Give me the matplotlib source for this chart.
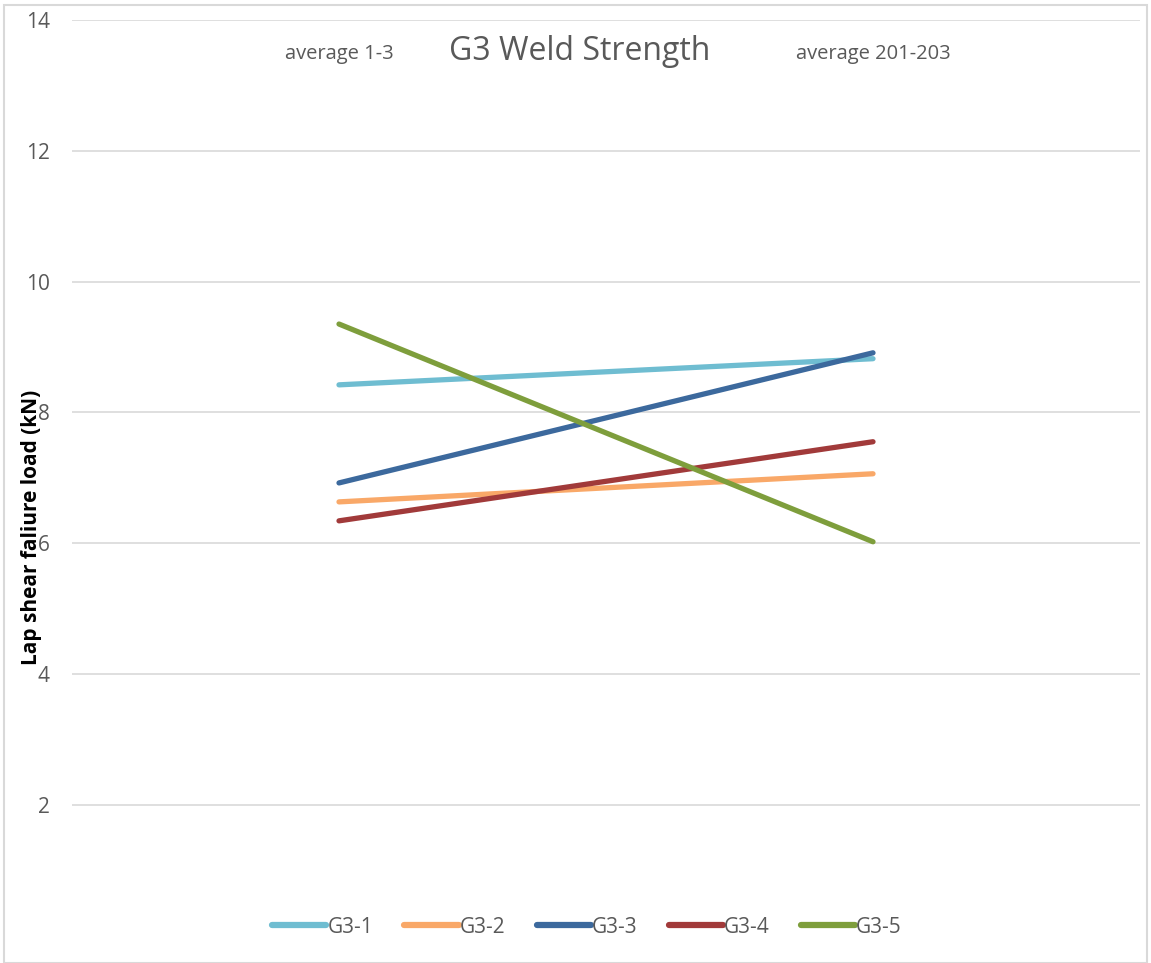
import matplotlib
matplotlib.use('Agg')
import matplotlib.pyplot as plt
from matplotlib.patches import Rectangle

plt.rcParams['font.family'] = ['Open Sans', 'DejaVu Sans']

# datos
categorias = ['average 1-3', 'average 201-203']
series = ['G3-1', 'G3-2', 'G3-3', 'G3-4', 'G3-5']
g3_1 = [8.42, 8.82]
g3_2 = [6.63, 7.06]
g3_3 = [6.92, 8.91]
g3_4 = [6.34, 7.55]
g3_5 = [9.35, 6.02]
colores = ['#6FBDD1', '#F9A868', '#3C699D', '#A13A3A', '#7E9E3C']
yticks = [2, 4, 6, 8, 10, 12, 14]

fig = plt.figure(figsize=(11.51, 9.63), dpi=100)
ax = fig.add_axes([72 / 1151, 1 - 870 / 963, (1140 - 72) / 1151, (870 - 20) / 963])

x = list(range(len(categorias)))
for nombre, valores, c in zip(series, [g3_1, g3_2, g3_3, g3_4, g3_5], colores):
    ax.plot(x, valores, color=c, lw=3.8, solid_capstyle='round', label=nombre)

ax.set_xlim(-0.5, 1.5)
ax.set_ylim(1, 14)
ax.set_yticks(yticks)
ax.set_yticklabels([str(t) for t in yticks], fontsize=15, color='#595959')
ax.tick_params(axis='y', length=0, pad=16)
ax.set_xticks([])
ax.grid(axis='y', color='#D9D9D9', lw=1.2)
ax.set_axisbelow(True)
for s in ax.spines.values():
    s.set_visible(False)

# etiquetas de categoria arriba
for xi, cat in zip(x, categorias):
    ax.text(xi, 13.48, cat, ha='center', va='center', fontsize=14.5, color='#595959')

ax.text(0.45, 13.52, 'G3 Weld Strength', ha='center', va='center', fontsize=23,
        color='#595959')

fig.text(32 / 1151, 1 - 527 / 963, 'Lap shear faliure load (kN)', rotation=90,
         ha='center', va='center', fontsize=15, fontweight='bold', color='black')

leg = ax.legend(loc='center', bbox_to_anchor=(587 / 1151, 1 - 927 / 963),
                bbox_transform=fig.transFigure, ncol=5, frameon=False, fontsize=15,
                handlelength=2.6, handletextpad=0.05, columnspacing=1.5,
                labelcolor='#595959')
for h in leg.get_lines():
    h.set_linewidth(4.5)

fig.patches.append(Rectangle((4 / 1151, 0), 1 - 8 / 1151, 1 - 5 / 963,
                             transform=fig.transFigure, fill=False,
                             edgecolor='#D9D9D9', lw=1.5))

plt.savefig('out.png', dpi=100)
